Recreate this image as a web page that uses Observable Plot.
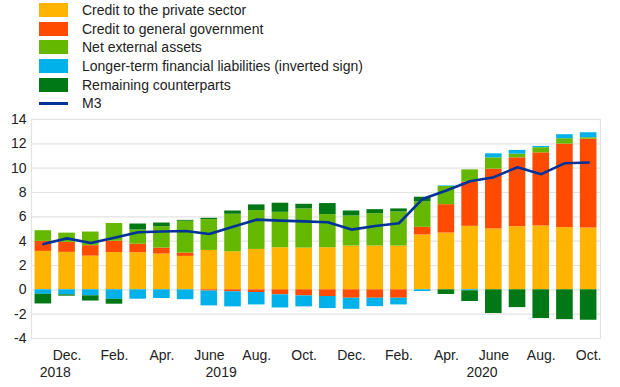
<!DOCTYPE html>
<html>
<head>
<meta charset="utf-8">
<script src="https://cdn.jsdelivr.net/npm/d3@7"></script>
<script src="https://cdn.jsdelivr.net/npm/@observablehq/plot@0.6"></script>
<style>
  html, body { margin: 0; padding: 0; background: #fff; }
  body { width: 620px; height: 387px; overflow: hidden; font-family: "Liberation Sans", Arial, sans-serif; color: #222; }
  #legend { height: 112px; box-sizing: border-box; padding-top: 1px; padding-left: 39px; }
  .row { height: 18.6px; display: flex; align-items: center; font-size: 14px; }
  .sw { width: 29px; height: 14px; margin-right: 14px; flex: none; }
  .ln { width: 29px; height: 2.5px; margin-right: 14px; flex: none; }
</style>
</head>
<body>
<div id="legend"></div>
<div id="chart"></div>
<script>
// ---- data ----
const months = ["Nov 2018","Dec 2018","Jan 2019","Feb 2019","Mar 2019","Apr 2019","May 2019","Jun 2019","Jul 2019","Aug 2019","Sep 2019","Oct 2019","Nov 2019","Dec 2019","Jan 2020","Feb 2020","Mar 2020","Apr 2020","May 2020","Jun 2020","Jul 2020","Aug 2020","Sep 2020","Oct 2020"];
const privateSector = [3.16,3.08,2.77,3.07,3.05,2.94,2.75,3.24,3.13,3.32,3.46,3.43,3.46,3.60,3.60,3.60,4.51,4.67,5.22,5.00,5.19,5.25,5.11,5.08];
const government    = [0.82,0.82,0.86,0.93,0.70,0.49,0.27,-0.10,-0.16,-0.22,-0.41,-0.50,-0.55,-0.69,-0.69,-0.69,0.63,2.33,3.63,4.92,5.66,6.01,6.87,7.31];
const netExternal   = [0.88,0.76,1.12,1.45,1.17,1.76,2.62,2.53,3.08,3.19,2.91,3.22,2.72,2.47,2.66,2.80,2.09,1.49,1.01,0.93,0.30,0.42,0.44,0.11];
const longerTerm    = [-0.36,-0.41,-0.49,-0.78,-0.77,-0.71,-0.81,-1.22,-1.24,-1.02,-1.08,-0.90,-0.99,-0.91,-0.69,-0.55,-0.14,0.05,-0.08,0.33,0.31,0.11,0.33,0.41];
const remaining     = [-0.80,-0.11,-0.43,-0.40,0.49,0.30,0.07,0.11,0.27,0.47,0.75,0.38,0.91,0.41,0.33,0.25,0.38,-0.38,-0.88,-1.95,-1.46,-2.36,-2.45,-2.50];
const m3            = [3.76,4.23,3.85,4.28,4.73,4.80,4.84,4.59,5.19,5.77,5.69,5.63,5.55,4.95,5.25,5.47,7.47,8.16,8.93,9.26,10.08,9.51,10.41,10.47];

const seriesNames  = ["Credit to the private sector","Credit to general government","Net external assets","Longer-term financial liabilities (inverted sign)","Remaining counterparts"];
const seriesColors = ["#FFB400","#FF4B00","#65B800","#00B1EA","#007816"];
const lineName = "M3";
const lineColor = "#003299";

const tickMonths = ["Dec","Feb","Apr","Jun","Aug","Oct"];
const tickLabels = ["Dec.","Feb.","Apr.","June","Aug.","Oct."];
const years = ["2018","2019","2020"];
const yTicks = [-4,-2,0,2,4,6,8,10,12,14];

// ---- legend ----
const legend = document.getElementById("legend");
seriesNames.forEach((n, k) => {
  const r = document.createElement("div"); r.className = "row";
  r.innerHTML = `<span class="sw" style="background:${seriesColors[k]}"></span><span>${n}</span>`;
  legend.appendChild(r);
});
{
  const r = document.createElement("div"); r.className = "row";
  r.innerHTML = `<span class="ln" style="background:${lineColor}"></span><span>${lineName}</span>`;
  legend.appendChild(r);
}

// ---- tables ----
const seriesValues = [privateSector, government, netExternal, longerTerm, remaining];
const rows = [];
months.forEach((m, i) => {
  seriesNames.forEach((s, k) => rows.push({i, month: m, series: s, value: seriesValues[k][i]}));
});
const lineRows = months.map((m, i) => ({i, value: m3[i]}));
const tickIdx = [], tickText = new Map();
months.forEach((m, i) => {
  const k = tickMonths.indexOf(m.slice(0, 3));
  if (k >= 0) { tickIdx.push(i); tickText.set(i, tickLabels[k]); }
});
const yearMid = [], yearText = new Map();
years.forEach(y => {
  const idx = months.map((m, i) => m.endsWith(y) ? i : null).filter(v => v != null);
  const mid = (d3.min(idx) + d3.max(idx)) / 2;
  yearMid.push(mid); yearText.set(mid, y);
});

const half = 0.35;
const chart = Plot.plot({
  width: 620,
  height: 275,
  marginTop: 7,
  marginBottom: 49,
  marginLeft: 31,
  marginRight: 20,
  style: {fontFamily: "'Liberation Sans', Arial, sans-serif", fontSize: "14px", color: "#222", background: "#fff"},
  x: {domain: [-0.5, months.length - 0.5], label: null},
  y: {domain: [-4, 14], label: null},
  color: {domain: seriesNames, range: seriesColors},
  marks: [
    Plot.gridY(yTicks, {stroke: "#e3e3e3", strokeOpacity: 1, strokeWidth: 1.2}),
    Plot.frame({stroke: "#e3e3e3", strokeWidth: 1.2}),
    Plot.rectY(rows, Plot.stackY({x1: d => d.i - half, x2: d => d.i + half, y: "value", fill: "series", order: seriesNames})),
    Plot.line(lineRows, {x: "i", y: "value", stroke: lineColor, strokeWidth: 2.6}),
    Plot.axisY({ticks: yTicks, tickSize: 0, tickPadding: 5, tickFormat: d => String(d), fontSize: 14, label: null}),
    Plot.axisX({ticks: tickIdx, tickSize: 0, tickPadding: 12, tickFormat: i => tickText.get(i), fontSize: 14, label: null}),
    Plot.axisX({ticks: yearMid, tickSize: 0, tickPadding: 29, tickFormat: i => yearText.get(i), fontSize: 14, label: null})
  ]
});
document.getElementById("chart").appendChild(chart);
</script>
</body>
</html>
